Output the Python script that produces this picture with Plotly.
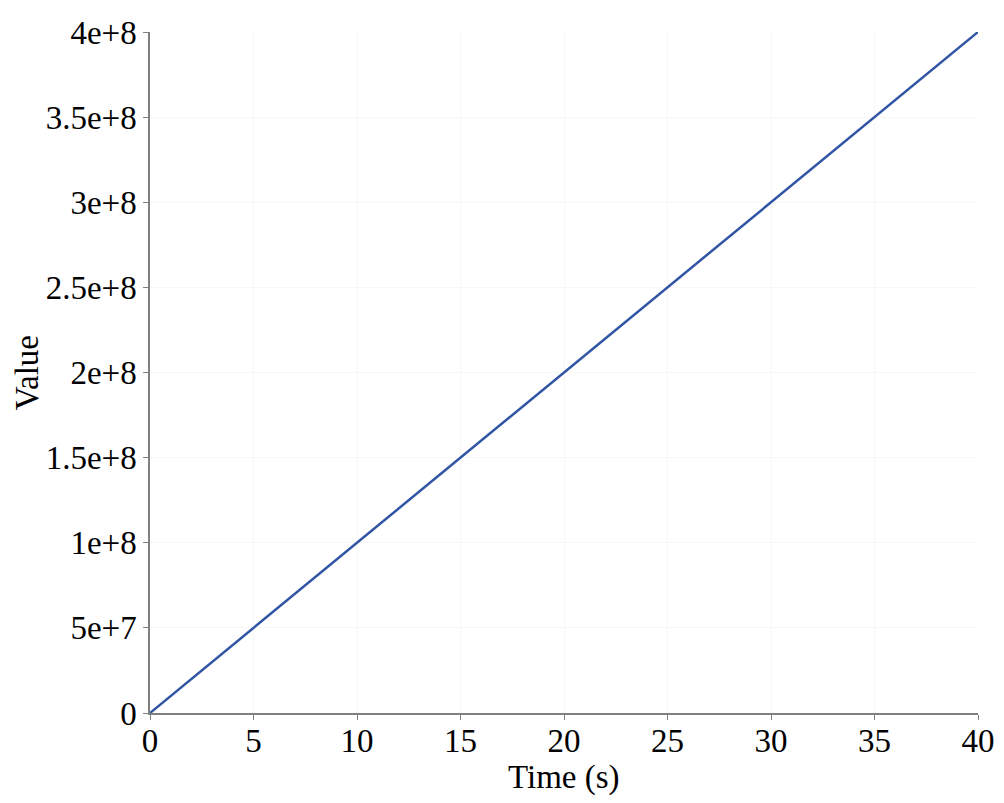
import plotly.graph_objects as go

time_s = [0, 5, 10, 15, 20, 25, 30, 35, 40]
values = [0, 5e7, 1e8, 1.5e8, 2e8, 2.5e8, 3e8, 3.5e8, 4e8]

y_tickvals = [0, 5e7, 1e8, 1.5e8, 2e8, 2.5e8, 3e8, 3.5e8, 4e8]
y_ticktext = ['0', '5e+7', '1e+8', '1.5e+8', '2e+8', '2.5e+8', '3e+8', '3.5e+8', '4e+8']

font = {'family': 'Liberation Serif, Times New Roman, serif', 'size': 33, 'color': 'black'}

fig = go.Figure()
fig.add_trace(
    go.Scatter(
        x=time_s,
        y=values,
        mode='lines',
        line={'color': '#2f55a4', 'width': 2.5},
        showlegend=False
    )
)

axis_style = {
    'showgrid': True,
    'gridcolor': '#f7f7f7',
    'zeroline': False,
    'showline': True,
    'linecolor': '#808080',
    'linewidth': 1.5,
    'ticks': 'outside',
    'ticklen': 5,
    'tickcolor': '#808080',
    'tickfont': font,
    'automargin': False,
}

# page body adds an 8px margin, so the figure is a little smaller than the window
fig.update_layout(
    width=996,
    height=795,
    margin={'l': 142, 'r': 26, 't': 24, 'b': 90},
    paper_bgcolor='white',
    plot_bgcolor='white',
    font=font,
    xaxis={**axis_style, 'range': [0, 40], 'dtick': 5, 'ticklabelstandoff': -7},
    yaxis={**axis_style, 'range': [0, 4e8],
           'tickvals': y_tickvals, 'ticktext': y_ticktext},
    annotations=[
        # axis titles placed by hand to sit tight against the tick labels
        {'text': 'Time (s)', 'xref': 'paper', 'yref': 'paper', 'x': 0.5, 'y': -0.094,
         'xanchor': 'center', 'yanchor': 'middle', 'showarrow': False, 'font': font},
        {'text': 'Value', 'xref': 'paper', 'yref': 'paper', 'x': -0.149, 'y': 0.5,
         'xanchor': 'center', 'yanchor': 'middle', 'textangle': -90,
         'showarrow': False, 'font': font},
    ],
)

fig.write_html("out.html")
